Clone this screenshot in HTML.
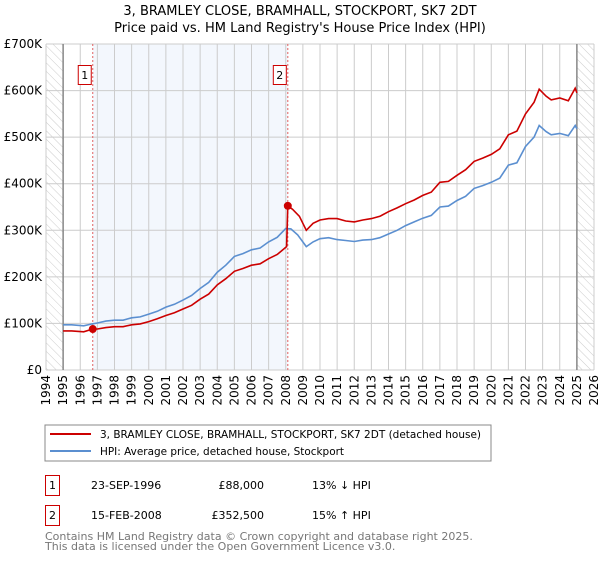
<!DOCTYPE html>
<html><head><meta charset="utf-8"><style>
body{margin:0;background:#fff;width:600px;height:560px;overflow:hidden;font-family:"DejaVu Sans","Liberation Sans",sans-serif}
svg text{font-family:"DejaVu Sans","Liberation Sans",sans-serif}
</style></head><body>
<svg id="c" width="600" height="560" xmlns="http://www.w3.org/2000/svg">
<defs><pattern id="hatch" width="6" height="6" patternUnits="userSpaceOnUse" patternTransform="rotate(-45)"><line x1="0" y1="0" x2="0" y2="6" stroke="#ccc" stroke-width="1"/></pattern></defs>
<text x="300" y="15" text-anchor="middle" font-size="13">3, BRAMLEY CLOSE, BRAMHALL, STOCKPORT, SK7 2DT</text>
<text x="300" y="32" text-anchor="middle" font-size="13">Price paid vs. HM Land Registry's House Price Index (HPI)</text>
<g id="plot"></g>
<rect x="45" y="425" width="446" height="36" fill="#fff" stroke="#888"/>
<line x1="50" y1="434" x2="91" y2="434" stroke="#cc0000" stroke-width="2"/>
<text x="100" y="438" font-size="10.5" textLength="381" lengthAdjust="spacingAndGlyphs">3, BRAMLEY CLOSE, BRAMHALL, STOCKPORT, SK7 2DT (detached house)</text>
<line x1="50" y1="451" x2="91" y2="451" stroke="#5b8fd0" stroke-width="2"/>
<text x="100" y="455" font-size="10.5" textLength="244" lengthAdjust="spacingAndGlyphs">HPI: Average price, detached house, Stockport</text>
<rect x="45.5" y="475.5" width="14" height="20" fill="#fff" stroke="#cc0000"/>
<text x="52.5" y="489" font-size="11" text-anchor="middle">1</text>
<text x="91" y="489" font-size="11">23-SEP-1996</text>
<text x="264" y="489" font-size="11" text-anchor="end">£88,000</text>
<text x="312" y="489" font-size="11">13% ↓ HPI</text>
<rect x="45.5" y="505.5" width="14" height="20" fill="#fff" stroke="#cc0000"/>
<text x="52.5" y="519" font-size="11" text-anchor="middle">2</text>
<text x="91" y="519" font-size="11">15-FEB-2008</text>
<text x="264" y="519" font-size="11" text-anchor="end">£352,500</text>
<text x="312" y="519" font-size="11">15% ↑ HPI</text>
<text x="45" y="540" font-size="11" fill="#777">Contains HM Land Registry data © Crown copyright and database right 2025.</text>
<text x="45" y="550" font-size="11" fill="#777">This data is licensed under the Open Government Licence v3.0.</text>
</svg>
<script>
const hpiYears=[1995,1995.5,1996.2,1996.7,1997,1997.5,1998,1998.5,1999,1999.5,2000,2000.5,2001,2001.5,2002,2002.5,2003,2003.5,2004,2004.5,2005,2005.5,2006,2006.5,2007,2007.5,2008,2008.3,2008.7,2009.2,2009.6,2010,2010.5,2011,2011.5,2012,2012.5,2013,2013.5,2014,2014.5,2015,2015.5,2016,2016.5,2017,2017.5,2018,2018.5,2019,2019.5,2020,2020.5,2021,2021.5,2022,2022.5,2022.8,2023.2,2023.5,2024,2024.5,2024.9,2025];
const hpiValues=[97,97,95,99,101,105,107,107,112,114,120,126,135,141,150,160,175,188,210,225,244,250,258,262,275,285,304,303,290,265,275,282,284,280,278,276,279,280,284,292,300,310,318,326,332,350,352,364,373,390,396,403,412,440,445,480,500,525,512,505,508,503,525,518];
const priceYears=[1995,1995.5,1996.2,1996.73,1997,1997.5,1998,1998.5,1999,1999.5,2000,2000.5,2001,2001.5,2002,2002.5,2003,2003.5,2004,2004.5,2005,2005.5,2006,2006.5,2007,2007.5,2008.05,2008.12,2008.4,2008.8,2009.2,2009.6,2010,2010.5,2011,2011.5,2012,2012.5,2013,2013.5,2014,2014.5,2015,2015.5,2016,2016.5,2017,2017.5,2018,2018.5,2019,2019.5,2020,2020.5,2021,2021.5,2022,2022.5,2022.8,2023.2,2023.5,2024,2024.5,2024.9,2025];
const priceValues=[84,84,82,88,88,91,93,93,97,99,104,110,117,123,131,139,152,163,183,196,212,218,225,228,239,248,265,352.5,345,330,300,315,322,325,325,320,318,322,325,330,340,348,357,365,375,382,403,405,418,430,448,455,463,475,505,513,550,575,603,588,580,584,578,605,595];
const sales=[{t:1996.73,v:88,label:"1"},{t:2008.12,v:352.5,label:"2"}];
const yTicks=[0,100,200,300,400,500,600,700];
const yTickLabels=["£0","£100K","£200K","£300K","£400K","£500K","£600K","£700K"];
const xStart=1994,xEnd=2026;
const X0=46,X1=594,Y0=370,Y1=44;
const sx=t=>X0+(t-xStart)/(xEnd-xStart)*(X1-X0);
const sy=v=>Y0-v/700*(Y0-Y1);
const NS="http://www.w3.org/2000/svg",g=document.getElementById('plot');
function mk(tag,a,p){const e=document.createElementNS(NS,tag);for(const k in a)e.setAttribute(k,a[k]);(p||g).appendChild(e);return e;}
let e;
e=mk('rect',{x:X0,y:Y1,width:X1-X0,height:Y0-Y1,fill:'#fff'});


e=mk('rect',{x:sx(sales[0].t),y:Y1,width:sx(sales[1].t)-sx(sales[0].t),height:Y0-Y1,fill:'#eef3fc',opacity:0.7});


e=mk('rect',{x:X0,y:Y1,width:sx(1995)-X0,height:Y0-Y1,fill:'url(#hatch)'});


e=mk('rect',{x:sx(2025),y:Y1,width:X1-sx(2025),height:Y0-Y1,fill:'url(#hatch)'});


for(let i=0;i<yTicks.length;i++){
 e=mk('line',{x1:X0,x2:X1,y1:sy(yTicks[i]),y2:sy(yTicks[i]),stroke:'#ccc'});
 
 
 e=mk('text',{x:X0-4,y:sy(yTicks[i])+4,'text-anchor':'end','font-size':12});
 e.textContent=yTickLabels[i];
 
 
}
for(let y=xStart;y<=xEnd;y++){
 e=mk('line',{x1:sx(y),x2:sx(y),y1:Y1,y2:Y0,stroke:'#ccc'});
 
 
 const tx=sx(y)+4,ty=Y0+5;
 e=mk('text',{x:tx,y:ty,'text-anchor':'end','font-size':12,transform:`rotate(-90 ${tx} ${ty})`});
 e.textContent=y;
 
 
}
[1995,2025].forEach(y=>{e=mk('line',{x1:sx(y),x2:sx(y),y1:Y1,y2:Y0,stroke:'#888','stroke-width':1.5});
 
 });
sales.forEach(s=>{
 e=mk('line',{x1:sx(s.t),x2:sx(s.t),y1:Y1,y2:Y0,stroke:'#e06060','stroke-dasharray':'2,2'});
 
 
 e=mk('rect',{x:sx(s.t)-14.5,y:65.5,width:13,height:19,fill:'#fff',stroke:'#cc0000'});
 
 
 e=mk('text',{x:sx(s.t)-8,y:79,'text-anchor':'middle','font-size':11});
 e.textContent=s.label;
 
 
});
function path(xs,vs){return xs.map((t,i)=>(i?'L':'M')+sx(t).toFixed(1)+','+sy(vs[i]).toFixed(1)).join('');}
e=mk('path',{d:path(hpiYears,hpiValues),fill:'none',stroke:'#5b8fd0','stroke-width':1.6});


e=mk('path',{d:path(priceYears,priceValues),fill:'none',stroke:'#cc0000','stroke-width':1.6});


sales.forEach(s=>{e=mk('circle',{cx:sx(s.t),cy:sy(s.v),r:4,fill:'#cc0000'});
 
 });
</script>
</body></html>
